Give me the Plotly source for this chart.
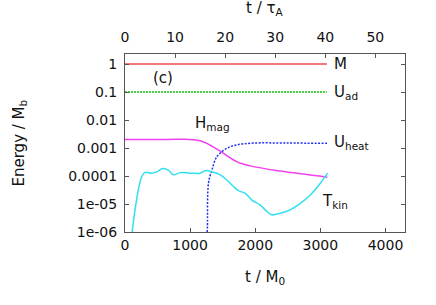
import plotly.graph_objects as go

# ---- data ----
m_t = [0, 3100]
m_v = [1.0, 1.0]

uad_t = [0, 3100]
uad_v = [0.1, 0.1]

hmag_t = [0, 500, 846, 1154, 1354, 1508, 1723, 1923, 2385, 3108]
hmag_v = [2.0e-3, 2.0e-3, 2.05e-3, 1.8e-3, 1.1e-3, 6.6e-4, 3.2e-4, 2.3e-4, 1.5e-4, 9.1e-5]

uheat_t = [1262, 1266, 1282, 1334, 1411, 1565, 1718, 1969, 2500, 3103]
uheat_v = [1.0e-6, 1.6e-6, 5.6e-5, 1.6e-4, 4.9e-4, 9.8e-4, 1.29e-3, 1.5e-3, 1.5e-3, 1.48e-3]

tkin_t = [110, 154, 205, 257, 308, 410, 487, 580, 666, 743, 846, 1000, 1154, 1231, 1334,
          1462, 1565, 1666, 1743, 1846, 1949, 2077, 2180, 2257, 2385, 2538, 2692, 2846, 3000, 3112]
tkin_v = [1.0e-6, 6.2e-6, 3.2e-5, 9.5e-5, 1.35e-4, 1.26e-4, 1.41e-4, 1.86e-4, 1.62e-4, 1.1e-4,
          1.32e-4, 1.26e-4, 1.26e-4, 1.55e-4, 1.41e-4, 1.1e-4, 7.2e-5, 4.2e-5, 3.0e-5, 2.4e-5,
          1.38e-5, 9.1e-6, 5.4e-6, 4.1e-6, 4.7e-6, 6.2e-6, 1.05e-5, 2.1e-5, 5.5e-5, 1.26e-4]

y_tickvals = [1e-6, 1e-5, 1e-4, 1e-3, 1e-2, 1e-1, 1]
y_ticktext = ["1e-06", "1e-05", "0.0001", "0.001", "0.01", "0.1", "1"]
x_tickvals = [0, 1000, 2000, 3000, 4000]
x2_tickvals = [0, 10, 20, 30, 40, 50]
tau_per_M0 = 76.9  # t/tau_A = (t/M0) / tau_per_M0

FONT = "DejaVu Sans, sans-serif"

fig = go.Figure()
fig.add_trace(go.Scatter(x=m_t, y=m_v, mode="lines", line=dict(color="#f04848", width=1.5)))
fig.add_trace(go.Scatter(x=uad_t, y=uad_v, mode="lines", line=dict(color="#10c010", width=1.5, dash="2px,1px")))
fig.add_trace(go.Scatter(x=hmag_t, y=hmag_v, mode="lines", line=dict(color="#f040f0", width=1.5, shape="spline")))
fig.add_trace(go.Scatter(x=uheat_t, y=uheat_v, mode="lines", line=dict(color="#2030f0", width=1.5, dash="2px,1.5px", shape="spline")))
fig.add_trace(go.Scatter(x=tkin_t, y=tkin_v, mode="lines", line=dict(color="#30e0f0", width=1.5, shape="spline")))
# invisible trace for top axis
fig.add_trace(go.Scatter(x=[0, 50], y=[1, 1], xaxis="x2", mode="lines", line=dict(width=0), opacity=0, hoverinfo="skip"))

x_max = 4300
axis_common = dict(showline=True, linecolor="#555", linewidth=1, ticks="inside",
                   tickcolor="#555", ticklen=4, showgrid=False, zeroline=False, automargin=False,
                   tickfont=dict(family=FONT, size=14, color="#111"))

fig.update_layout(
    width=436, height=305,
    margin=dict(l=125, r=31, t=54, b=73, autoexpand=False),
    paper_bgcolor="white", plot_bgcolor="white",
    showlegend=False,
    font=dict(family=FONT, size=14, color="#111"),
    xaxis=dict(range=[0, x_max], tickvals=x_tickvals, mirror=True, **axis_common),
    xaxis2=dict(range=[0, x_max / tau_per_M0], tickvals=x2_tickvals, overlaying="x", side="top",
                anchor="y", ticklabelstandoff=5, **axis_common),
    yaxis=dict(type="log", range=[-6, 0.357], tickvals=y_tickvals, ticktext=y_ticktext,
               mirror="ticks", ticklabelstandoff=4, **axis_common),
)

ann = [
    dict(text="t / τ<sub>A</sub>", x=0.5, y=1, yshift=34, xref="paper", yref="paper", yanchor="bottom"),
    dict(text="t / M<sub>0</sub>", x=0.5, y=0, yshift=-34, xref="paper", yref="paper", yanchor="top"),
    dict(text="Energy / M<sub>b</sub>", x=0, xshift=-118, y=0.5, xref="paper", yref="paper",
         textangle=-90, xanchor="left"),
    dict(text="M", x=3180, y=0, xref="x", yref="y", xanchor="left"),
    dict(text="U<sub>ad</sub>", x=3180, y=-1, xref="x", yref="y", xanchor="left"),
    dict(text="(c)", x=400, y=-0.5, xref="x", yref="y", xanchor="left"),
    dict(text="H<sub>mag</sub>", x=1050, y=-2.12, xref="x", yref="y", xanchor="left"),
    dict(text="U<sub>heat</sub>", x=3180, y=-2.8, xref="x", yref="y", xanchor="left"),
    dict(text="T<sub>kin</sub>", x=2990, y=-4.9, xref="x", yref="y", xanchor="left"),
]
for a in ann:
    a.update(showarrow=False, font=dict(family=FONT, size=15, color="#111"))
    fig.add_annotation(**a)

fig.write_html("out.html", config={"displayModeBar": False},
               post_script="document.body.style.margin='0';document.body.style.padding='0';")
